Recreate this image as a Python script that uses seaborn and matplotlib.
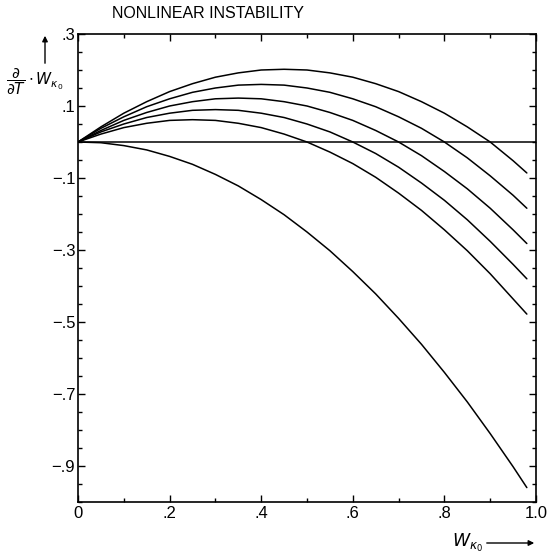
import numpy as np
import pandas as pd
import matplotlib
matplotlib.use("Agg")
import matplotlib.pyplot as plt
import seaborn as sns
from matplotlib.ticker import MultipleLocator, FixedLocator

# ---- data ----
w_grid = [0, .05, .1, .15, .2, .25, .3, .35, .4, .45, .5, .55, .6, .65, .7, .75, .8, .85, .9, .95, .98]
curve_a90 = [0, .042, .080, .112, .140, .162, .180, .192, .200, .202, .200, .192, .180, .162, .140, .112, .080, .042, 0, -.052, -.086]
curve_a80 = [0, .038, .070, .098, .120, .138, .150, .158, .160, .158, .150, .138, .120, .098, .070, .038, 0, -.044, -.094, -.148, -.184]
curve_a70 = [0, .032, .060, .082, .100, .112, .120, .122, .120, .112, .100, .082, .060, .032, 0, -.038, -.082, -.130, -.184, -.244, -.282]
curve_a60 = [0, .028, .050, .068, .080, .088, .090, .088, .080, .068, .050, .028, 0, -.032, -.070, -.114, -.162, -.216, -.276, -.340, -.380]
curve_a50 = [0, .022, .040, .052, .060, .062, .060, .052, .040, .022, 0, -.028, -.060, -.098, -.142, -.190, -.244, -.302, -.366, -.436, -.478]
curve_a00 = [0, -.002, -.010, -.022, -.040, -.062, -.090, -.122, -.160, -.202, -.250, -.302, -.360, -.422, -.490, -.562, -.640, -.722, -.810, -.902, -.960]
zero_w = [0, 1.0]
zero_line = [0, 0]

y_tick_values = [.3, .1, -.1, -.3, -.5, -.7, -.9]
y_tick_labels = [".3", ".1", "\u2212.1", "\u2212.3", "\u2212.5", "\u2212.7", "\u2212.9"]
x_tick_values = [0, .2, .4, .6, .8, 1.0]
x_tick_labels = ["0", ".2", ".4", ".6", ".8", "1.0"]

series = {"0.9": curve_a90, "0.8": curve_a80, "0.7": curve_a70,
          "0.6": curve_a60, "0.5": curve_a50, "0": curve_a00}
rows = []
for name, vals in series.items():
    for w, v in zip(w_grid, vals):
        rows.append({"curve": name, "w": w, "rate": v})
for w, v in zip(zero_w, zero_line):
    rows.append({"curve": "zero", "w": w, "rate": v})
df = pd.DataFrame(rows)

sns.set_theme(style="ticks")
plt.rcParams["font.family"] = ["Liberation Sans", "DejaVu Sans"]
plt.rcParams["mathtext.fontset"] = "dejavusans"

W, H = 549, 557
fig = plt.figure(figsize=(W / 100, H / 100), dpi=100)
left, right, top, bottom = 78, 536, 34, 502
ax = fig.add_axes([left / W, 1 - bottom / H, (right - left) / W, (bottom - top) / H])

sns.lineplot(data=df, x="w", y="rate", units="curve", estimator=None,
             color="black", linewidth=1.1, ax=ax, legend=False, sort=True)

ax.set_xlim(0, 1.0)
ax.set_ylim(-1.0, 0.3)
ax.set_xlabel("")
ax.set_ylabel("")

ax.yaxis.set_major_locator(FixedLocator(y_tick_values))
ax.set_yticklabels(y_tick_labels)
ax.yaxis.set_minor_locator(MultipleLocator(0.05))
ax.xaxis.set_major_locator(FixedLocator(x_tick_values))
ax.set_xticklabels(x_tick_labels)
ax.xaxis.set_minor_locator(MultipleLocator(0.1))

ax.tick_params(axis="both", which="both", direction="in", top=True, right=True,
               color="black", width=1.0, labelsize=12, labelcolor="black")
ax.tick_params(axis="both", which="major", length=5)
ax.tick_params(axis="both", which="minor", length=3)
ax.tick_params(axis="y", which="major", pad=2)
ax.tick_params(axis="x", which="major", pad=3)

for side in ["left", "bottom", "right", "top"]:
    ax.spines[side].set_color("black")
    ax.spines[side].set_linewidth(1.2)

fig.text(112 / W, 1 - 13 / H, "NONLINEAR INSTABILITY", ha="left", va="center",
         fontsize=11.5, color="black")

fig.text(6 / W, 1 - 82 / H, r"$\dfrac{\partial}{\partial T}\cdot W_{\kappa_0}$",
         ha="left", va="center", fontsize=11, color="black")
ax.annotate("", xy=(45 / W, 1 - 33 / H), xytext=(45 / W, 1 - 66 / H),
            xycoords="figure fraction", textcoords="figure fraction",
            arrowprops=dict(arrowstyle="-|>", color="black", lw=1.0, mutation_scale=8))

fig.text(452 / W, 1 - 543 / H, r"$W_{\kappa_0}$", ha="left", va="center",
         fontsize=12.5, color="black")
ax.annotate("", xy=(537 / W, 1 - 543 / H), xytext=(484 / W, 1 - 543 / H),
            xycoords="figure fraction", textcoords="figure fraction",
            arrowprops=dict(arrowstyle="-|>", color="black", lw=1.0, mutation_scale=8))

fig.savefig("out.png", dpi=100)
